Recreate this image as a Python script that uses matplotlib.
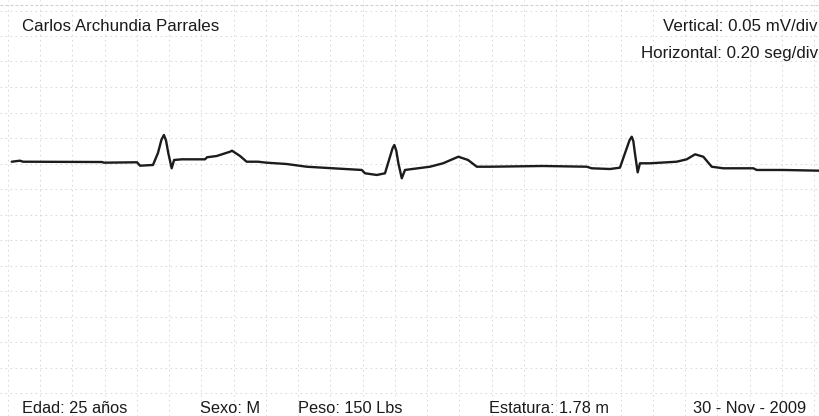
import matplotlib
matplotlib.use('Agg')
import matplotlib.pyplot as plt
import numpy as np

# ECG trace (time in s, amplitude in mV)
time_s = [0.023, 0.074, 0.093, 0.583, 0.595, 0.800, 0.819, 0.899, 0.930, 0.952, 0.967, 0.980,
          0.994, 1.015, 1.030, 1.077, 1.222, 1.234, 1.294, 1.377, 1.389, 1.439,
          1.480, 1.550, 1.604, 1.728, 1.852, 2.016, 2.194, 2.214, 2.287, 2.338,
          2.369, 2.385, 2.396, 2.408, 2.421, 2.442, 2.462, 2.493, 2.617, 2.698, 2.793, 2.853,
          2.907, 2.989, 3.318, 3.589, 3.620, 3.733, 3.795, 3.826, 3.855, 3.868, 3.878, 3.888,
          3.905, 3.919, 3.981, 4.147, 4.209, 4.261, 4.312, 4.364, 4.436, 4.622,
          4.643, 4.808, 5.036]
voltage_mv = [0.0035, 0.0055, 0.0035, 0.0029, 0.0016, 0.0024, -0.0043, -0.0029, 0.0206, 0.0470, 0.0559, 0.0450,
              0.0206, -0.0094, 0.0069, 0.0082, 0.0082, 0.0122, 0.0147, 0.0231, 0.0251, 0.0147,
              0.0035, 0.0035, 0.0016, -0.0010, -0.0063, -0.0094, -0.0127, -0.0192, -0.0225, -0.0192,
              0.0133, 0.0300, 0.0363, 0.0250, 0.0004, -0.0290, -0.0127, -0.0114, -0.0063, 0.0004, 0.0133, 0.0069,
              -0.0063, -0.0063, -0.0049, -0.0063, -0.0094, -0.0108, -0.0082, 0.0200, 0.0460, 0.0525, 0.0440, 0.0200,
              -0.0173, 0.0004, 0.0004, 0.0035, 0.0082, 0.0180, 0.0133, -0.0063, -0.0094, -0.0094,
              -0.0127, -0.0127, -0.0141]

header_name = "Carlos Archundia Parrales"
scale_labels = ["Vertical: 0.05 mV/div", "Horizontal: 0.20 seg/div"]
footer_labels = ["Edad: 25 años", "Sexo: M", "Peso: 150 Lbs", "Estatura: 1.78 m", "30 - Nov - 2009"]

sec_per_div = 0.20
mv_per_div = 0.05

W, H = 820, 416
fig = plt.figure(figsize=(W / 100, H / 100), dpi=100)
fig.patch.set_facecolor('white')
ax = fig.add_axes([0, 0, 1, 1])

px_per_s = 161.25
px_per_mv = 510.0
x0_px, y0_px = 8.0, 163.5
ax.set_xlim(-x0_px / px_per_s, (W - x0_px) / px_per_s)
ax.set_ylim(-(H - y0_px) / px_per_mv, y0_px / px_per_mv)

xt = np.round(np.arange(0, 5.0 + 1e-9, sec_per_div), 3)
yt = np.round(np.arange(-0.45, 0.30 + 1e-9, mv_per_div), 3)
ax.set_xticks(xt)
ax.set_yticks(yt)
ax.tick_params(length=0, labelbottom=False, labelleft=False)
ax.grid(True, color='#d2d2d2', linestyle=(0, (2, 4)), linewidth=0.6)
for s in ax.spines.values():
    s.set_visible(False)
# top border of the paper
ax.axhline((y0_px - 5) / px_per_mv, color='#cfcfcf', linestyle=(0, (2.5, 2)), linewidth=0.8)

ax.plot(time_s, voltage_mv, color='#1c1c1c', linewidth=1.7,
        solid_joinstyle='round', solid_capstyle='round')

head_font = dict(family='Liberation Sans', color='#1a1a1a', fontsize=12.2)
foot_font = dict(family='Liberation Sans', color='#1a1a1a', fontsize=11.8)
def fx(px):
    return px / W
def fy(py):
    return 1 - py / H

fig.text(fx(22), fy(31), header_name, ha='left', va='baseline', **head_font)
fig.text(fx(818), fy(31), scale_labels[0], ha='right', va='baseline', **head_font)
fig.text(fx(818), fy(58), scale_labels[1], ha='right', va='baseline', **head_font)

footer_x = [22, 200, 298, 489, 693]
for x, lab in zip(footer_x, footer_labels):
    fig.text(fx(x), fy(413), lab, ha='left', va='baseline', **foot_font)

fig.savefig('out.png', dpi=100, facecolor='white')
